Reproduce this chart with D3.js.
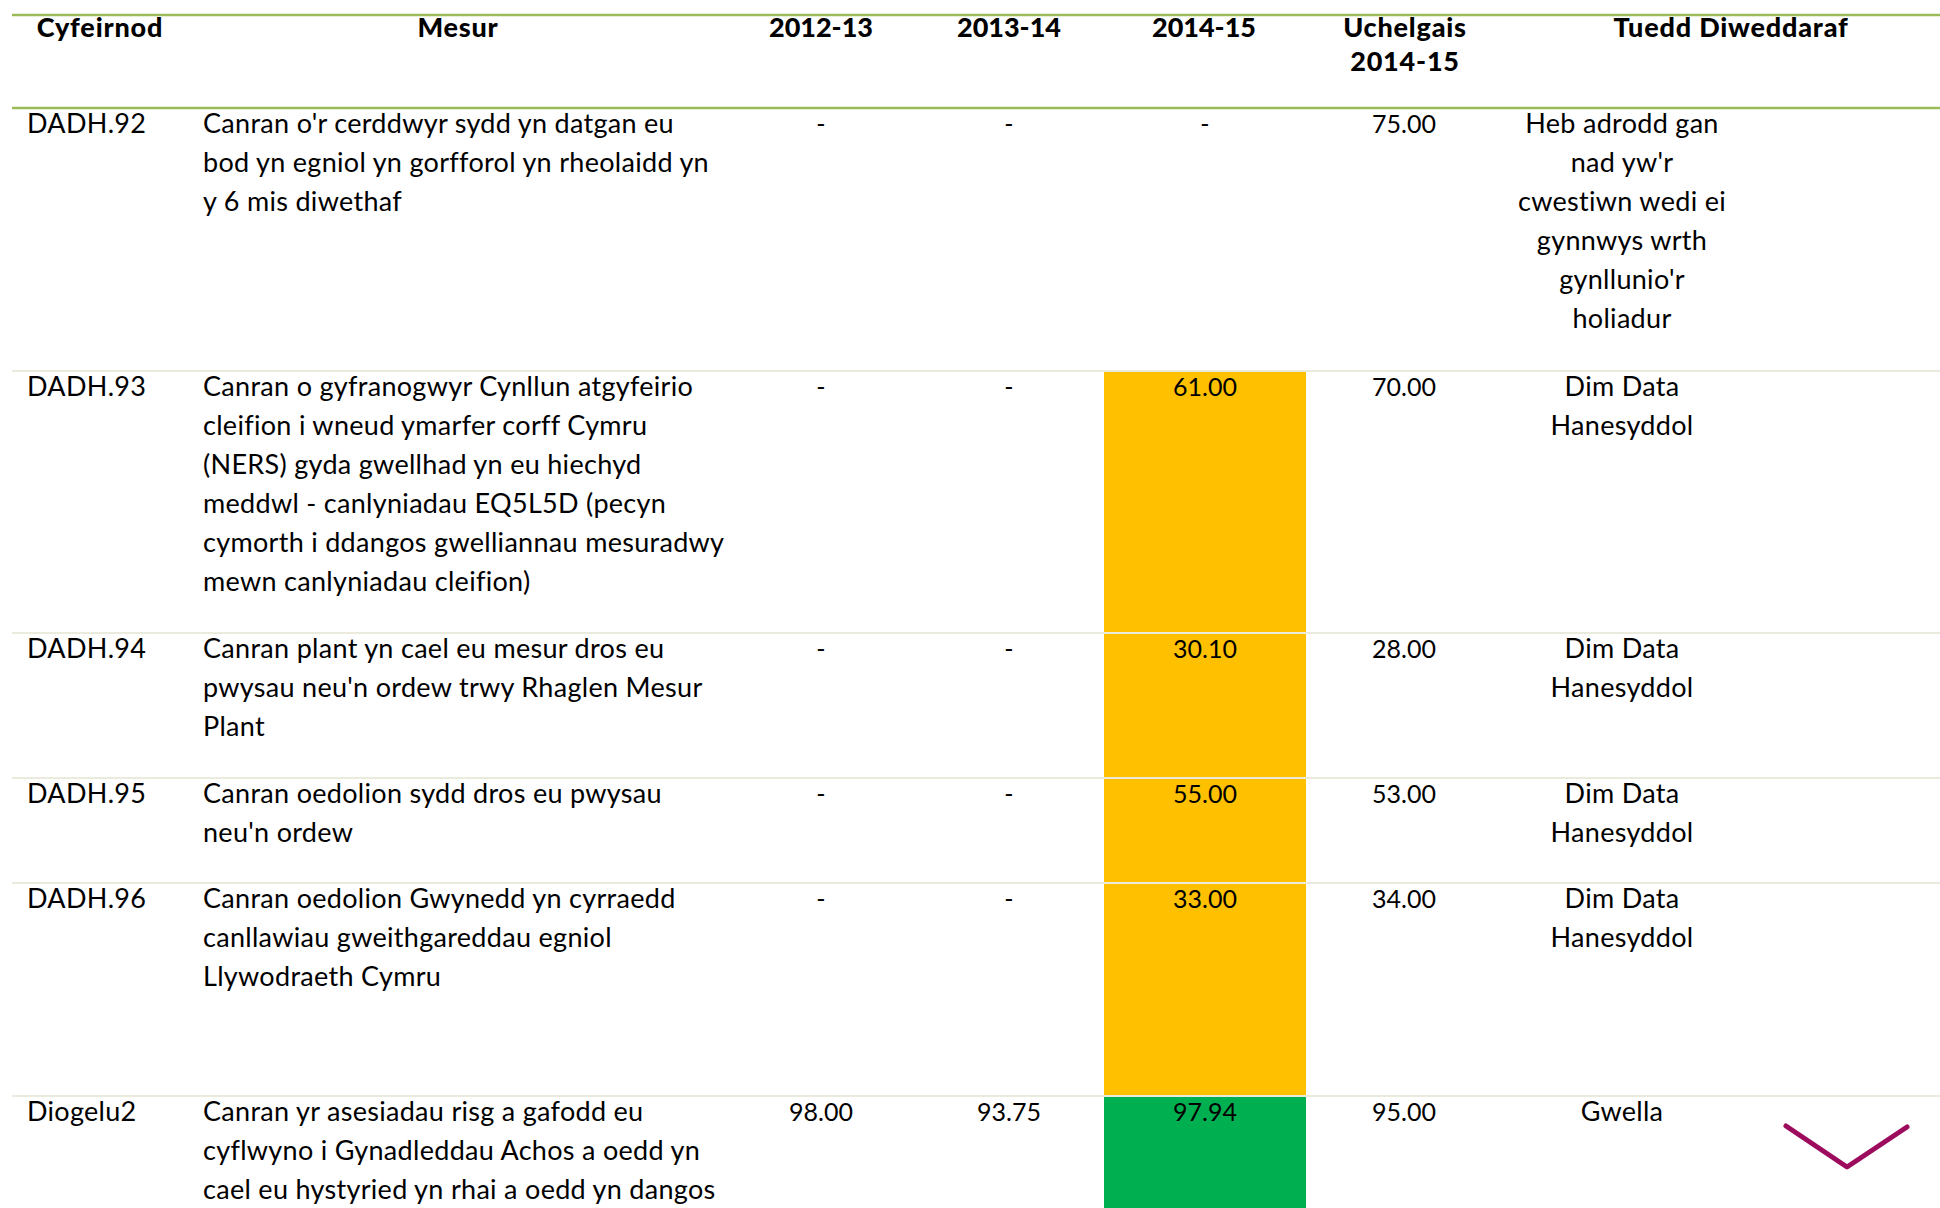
<!doctype html>
<html>
  <head>
    <meta charset="utf-8">
    <title>Mesurau perfformiad</title>
    <script src="https://cdnjs.cloudflare.com/ajax/libs/d3/7.8.5/d3.min.js"></script>
    <style>
      body {
        margin: 0;
        background: #fff;
      }
      svg {
        display: block;
        font-family: Lato, "Noto Sans", sans-serif;
      }
    </style>
  </head>

  <body>
    <div id="table"></div>

    <script>
      const headers = ['Cyfeirnod', 'Mesur', '2012-13', '2013-14', '2014-15', 'Uchelgais\n2014-15', 'Tuedd Diweddaraf'];
      const refs = ['DADH.92', 'DADH.93', 'DADH.94', 'DADH.95', 'DADH.96', 'Diogelu2'];
      const measures = [
        ["Canran o'r cerddwyr sydd yn datgan eu", 'bod yn egniol yn gorfforol yn rheolaidd yn', 'y 6 mis diwethaf'],
        ['Canran o gyfranogwyr Cynllun atgyfeirio', 'cleifion i wneud ymarfer corff Cymru', '(NERS) gyda gwellhad yn eu hiechyd', 'meddwl - canlyniadau EQ5L5D (pecyn', 'cymorth i ddangos gwelliannau mesuradwy', 'mewn canlyniadau cleifion)'],
        ['Canran plant yn cael eu mesur dros eu', "pwysau neu'n ordew trwy Rhaglen Mesur", 'Plant'],
        ['Canran oedolion sydd dros eu pwysau', "neu'n ordew"],
        ['Canran oedolion Gwynedd yn cyrraedd', 'canllawiau gweithgareddau egniol', 'Llywodraeth Cymru'],
        ['Canran yr asesiadau risg a gafodd eu', 'cyflwyno i Gynadleddau Achos a oedd yn', 'cael eu hystyried yn rhai a oedd yn dangos']
      ];
      const values1213 = [null, null, null, null, null, 98.00];
      const values1314 = [null, null, null, null, null, 93.75];
      const values1415 = [null, 61.00, 30.10, 55.00, 33.00, 97.94];
      const targets = [75.00, 70.00, 28.00, 53.00, 34.00, 95.00];
      const status = [null, 'amber', 'amber', 'amber', 'amber', 'green'];
      const trends = [
        ['Heb adrodd gan', "nad yw'r", 'cwestiwn wedi ei', 'gynnwys wrth', "gynllunio'r", 'holiadur'],
        ['Dim Data', 'Hanesyddol'],
        ['Dim Data', 'Hanesyddol'],
        ['Dim Data', 'Hanesyddol'],
        ['Dim Data', 'Hanesyddol'],
        ['Gwella']
      ];
      const arrows = [null, null, null, null, null, 'down'];

      // Layout
      const width = 1940, height = 1208;
      const headTop = 15, bodyTop = 108;
      const rowHeights = [263, 262, 145, 105, 213, 200];
      const lineH = 39;
      const textSize = 27, numSize = 25;

      const rows = refs.map((ref, i) => ({
        ref,
        measure: measures[i],
        v1: values1213[i],
        v2: values1314[i],
        v3: values1415[i],
        target: targets[i],
        status: status[i],
        trend: trends[i],
        arrow: arrows[i]
      }));
      const tops = [bodyTop, ...d3.cumsum(rowHeights).map(h => bodyTop + h)];
      rows.forEach((d, i) => { d.y = tops[i]; d.h = rowHeights[i]; });

      // Column positions
      const headX = [100, 458, 821, 1009, 1204, 1405, 1731];
      const col = { ref: 27, measure: 203, v1: 821, v2: 1009, v3: 1205, target: 1404, trend: 1622, arrow: 1847 };
      const cellX0 = 1104, cellX1 = 1306;

      const fmt = v => v == null ? '-' : d3.format('.2f')(v);
      const ragColor = d3.scaleOrdinal().domain(['amber', 'green']).range(['#ffc000', '#00b050']);

      const svg = d3.select('#table')
        .append('svg')
        .attr('width', width)
        .attr('height', height);

      // Status cells
      svg.selectAll('rect.cell')
        .data(rows.filter(d => d.status))
        .join('rect')
        .attr('class', 'cell')
        .attr('x', cellX0)
        .attr('y', d => d.y + 1)
        .attr('width', cellX1 - cellX0)
        .attr('height', d => d.h - 1)
        .attr('fill', d => ragColor(d.status));

      // Row separators
      svg.selectAll('line.sep')
        .data(rows.slice(1))
        .join('line')
        .attr('class', 'sep')
        .attr('x1', 12).attr('x2', width)
        .attr('y1', d => d.y).attr('y2', d => d.y)
        .attr('stroke', '#ebebdd')
        .attr('stroke-width', 2.2);

      // Header rules
      svg.selectAll('line.head')
        .data([headTop, bodyTop])
        .join('line')
        .attr('class', 'head')
        .attr('x1', 12).attr('x2', width)
        .attr('y1', d => d).attr('y2', d => d)
        .attr('stroke', '#9bbb59')
        .attr('stroke-width', 2.5);

      // Header labels
      svg.selectAll('text.head')
        .data(headers)
        .join('text')
        .attr('class', 'head')
        .attr('x', (d, i) => headX[i])
        .attr('y', 37)
        .attr('text-anchor', 'middle')
        .attr('font-size', 27)
        .attr('font-weight', 900)
        .attr('letter-spacing', d => /^\d/.test(d) ? 0 : 0.8)
        .selectAll('tspan')
        .data(d => d.split('\n'))
        .join('tspan')
        .attr('x', function() { return this.parentNode.getAttribute('x'); })
        .attr('dy', (d, i) => i ? 34 : 0)
        .text(d => d);

      // Body rows
      const g = svg.selectAll('g.row')
        .data(rows)
        .join('g')
        .attr('class', 'row')
        .attr('transform', d => `translate(0,${d.y + 25})`)
        .attr('font-size', textSize)
        .attr('letter-spacing', 0.3);

      g.append('text')
        .attr('x', col.ref)
        .text(d => d.ref);

      function multiline(sel, x, anchor, key) {
        sel.append('text')
          .attr('text-anchor', anchor)
          .selectAll('tspan')
          .data(d => d[key])
          .join('tspan')
          .attr('x', x)
          .attr('y', (d, i) => i * lineH)
          .text(d => d);
      }
      multiline(g, col.measure, 'start', 'measure');
      multiline(g, col.trend, 'middle', 'trend');

      ['v1', 'v2', 'v3', 'target'].forEach(k => {
        g.append('text')
          .attr('x', col[k])
          .attr('text-anchor', 'middle')
          .attr('font-size', numSize)
          .attr('letter-spacing', 0)
          .text(d => fmt(d[k]));
      });

      // Trend arrows
      const arrowShape = { down: [[-61, -41], [0, 0], [60, -40]] };
      svg.selectAll('path.arrow')
        .data(rows.filter(d => d.arrow))
        .join('path')
        .attr('class', 'arrow')
        .attr('transform', d => `translate(${col.arrow},${d.y + 71})`)
        .attr('d', d => d3.line()(arrowShape[d.arrow]))
        .attr('fill', 'none')
        .attr('stroke', '#9c0b5e')
        .attr('stroke-width', 5)
        .attr('stroke-linecap', 'round')
        .attr('stroke-linejoin', 'round');
    </script>
  </body>
</html>
